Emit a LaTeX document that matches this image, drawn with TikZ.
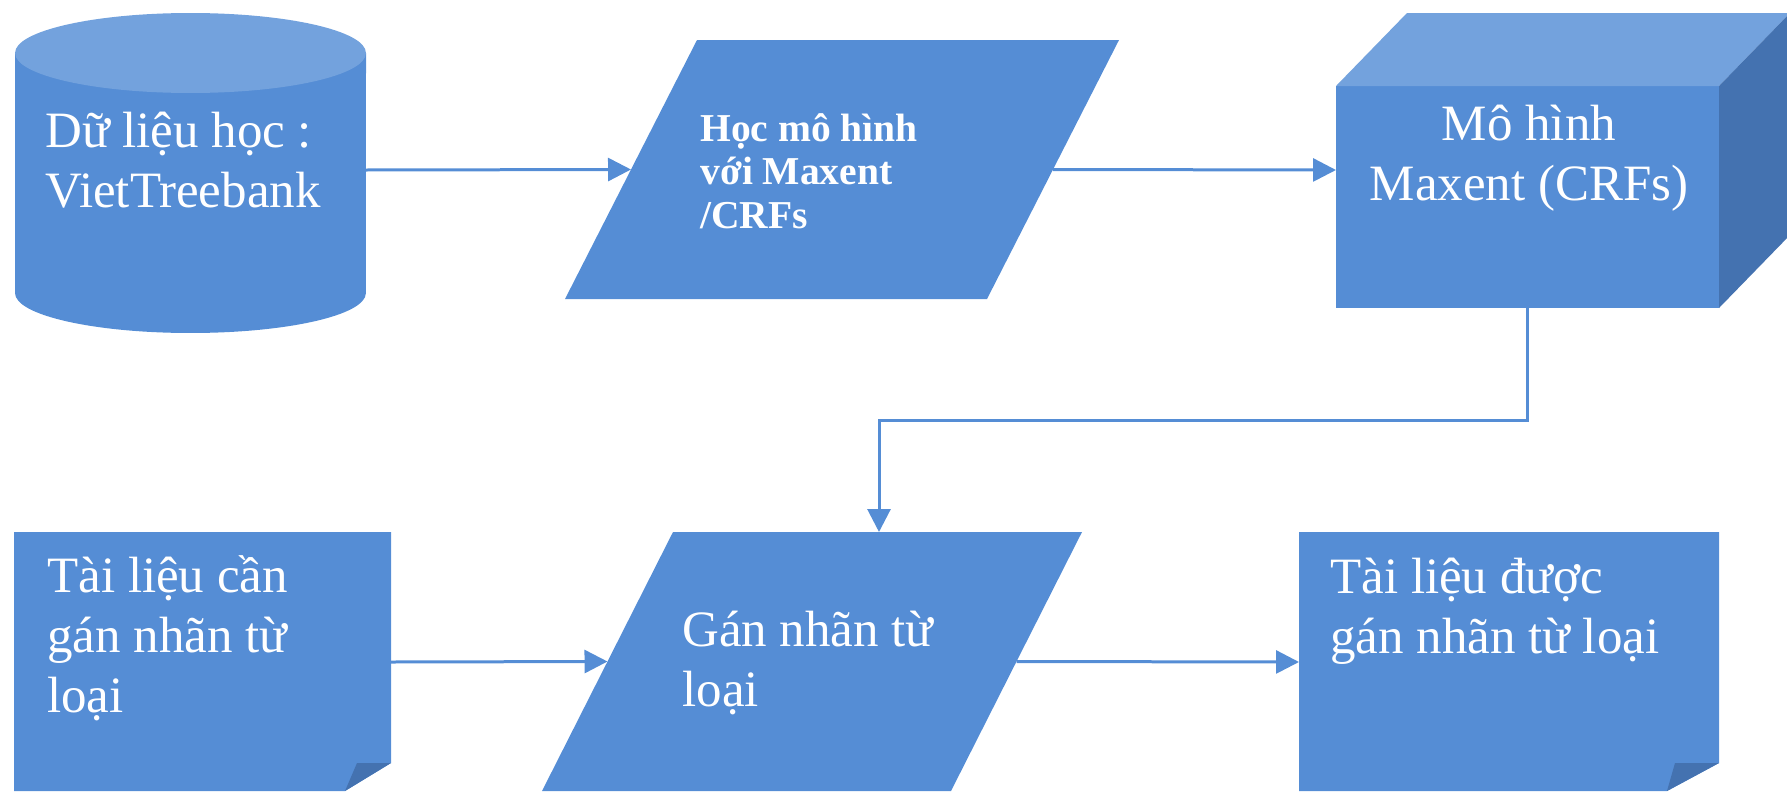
\documentclass[tikz,border=0pt]{standalone}
\usepackage{fontspec}
\setmainfont{Liberation Serif}
\usetikzlibrary{arrows.meta,positioning,calc}
\definecolor{boxblue}{RGB}{85,141,213}
\definecolor{topblue}{RGB}{115,162,221}
\definecolor{sideblue}{RGB}{68,114,176}
\tikzset{
  flow/.style={draw=boxblue, line width=0.06cm, -{Triangle[length=0.46cm, width=0.46cm]}},
  bigtxt/.style={font=\fontsize{29}{34}\selectfont, text=white, inner sep=0pt, align=left, anchor=base west},
  smalltxt/.style={font=\fontsize{22.5}{24.5}\selectfont\bfseries, text=white, inner sep=0pt, align=left, anchor=base west}
}
\begin{document}
\begin{tikzpicture}[x=0.02cm, y=-0.02cm]
    \useasboundingbox (0,0) rectangle (1787,791);

    % Training data (cylinder)
    \fill[boxblue] (15,53) -- (15,293)
        arc[start angle=180, end angle=360, x radius=3.51cm, y radius=0.8cm] -- (366,53) -- cycle;
    \fill[topblue] (190.5,53) ellipse[x radius=3.51cm, y radius=0.8cm];
    \node[bigtxt] (data) at (45,207) {Dữ liệu học :\\VietTreebank};

    % Learning step (parallelogram)
    \fill[boxblue] (697,40) -- (1119,40) -- (987,299) -- (565,299) -- cycle;
    \node[smalltxt] (learn) at (700,228) {Học mô hình\\với Maxent\\/CRFs};

    % Model (box)
    \fill[boxblue] (1336,86) rectangle (1719,308);
    \fill[topblue] (1336,86) -- (1407,13) -- (1790,13) -- (1719,86) -- cycle;
    \fill[sideblue] (1719,86) -- (1790,13) -- (1790,235) -- (1719,308) -- cycle;
    \node[bigtxt, align=center, anchor=base] (model) at (1529,200) {Mô hình\\Maxent (CRFs)};

    % Input document
    \fill[boxblue] (14,532) -- (391,532) -- (391,763) -- (345,791) -- (14,791) -- cycle;
    \fill[sideblue] (357,763) -- (391,763) -- (345,791) -- cycle;
    \node[bigtxt] (input) at (47,712) {Tài liệu cần\\gán nhãn từ\\loại};

    % Tagging step (parallelogram)
    \fill[boxblue] (673,532) -- (1082,532) -- (951,791) -- (542,791) -- cycle;
    \node[bigtxt] (tag) at (682,706) {Gán nhãn từ\\loại};

    % Output document
    \fill[boxblue] (1299,532) -- (1719,532) -- (1719,763) -- (1667,791) -- (1299,791) -- cycle;
    \fill[sideblue] (1675,763) -- (1719,763) -- (1667,791) -- cycle;
    \node[bigtxt] (output) at (1330,653) {Tài liệu được\\gán nhãn từ loại};

    % Connector ends
    \coordinate (data-r) at (366,170);
    \coordinate (learn-l) at ($(565,299)!0.5!(697,40)$);
    \coordinate (learn-r) at ($(987,299)!0.5!(1119,40)$);
    \coordinate (model-l) at (1336,170);
    \coordinate (model-b) at (1527,308);
    \coordinate (tag-t) at (879,532);
    \coordinate (input-r) at (391,662);
    \coordinate (tag-l) at ($(542,791)!0.5!(673,532)$);
    \coordinate (tag-r) at ($(951,791)!0.5!(1082,532)$);
    \coordinate (output-l) at (1299,662);

    % Arrows
    \draw[flow] (data-r) -- (learn-l);
    \draw[flow] (learn-r) -- (model-l);
    \draw[flow] (model-b) -- ++(0,112) -| (tag-t);
    \draw[flow] (input-r) -- (tag-l);
    \draw[flow] (tag-r) -- (output-l);
\end{tikzpicture}
\end{document}
